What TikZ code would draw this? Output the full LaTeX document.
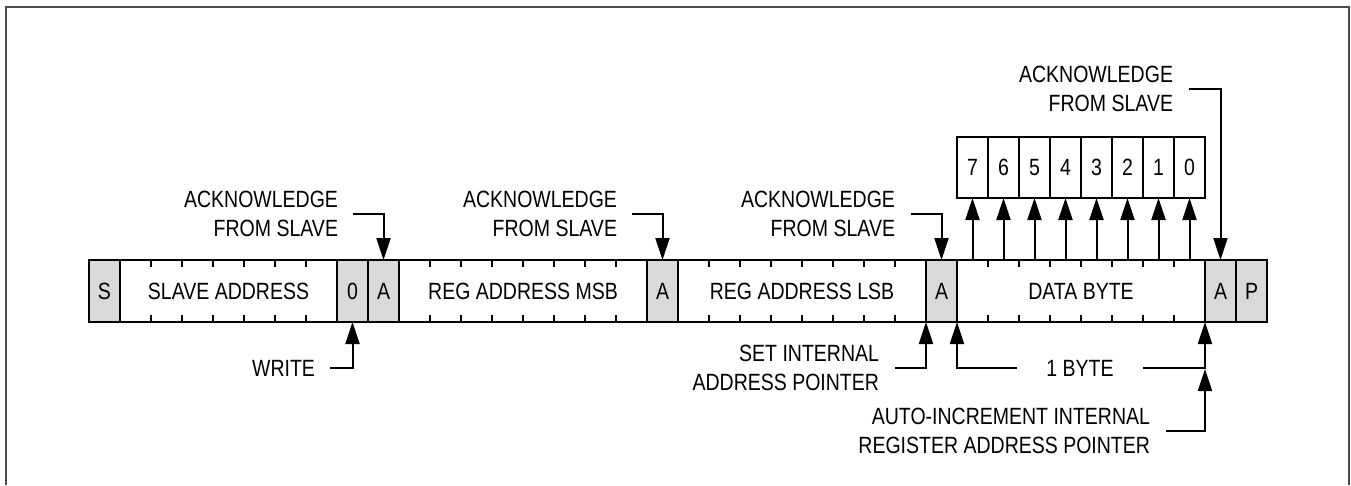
\documentclass[tikz,border=0pt]{standalone}
\usepackage{fontspec}
\setmainfont{Liberation Sans}[FakeStretch=0.83]
\usetikzlibrary{arrows.meta,calc}
\tikzset{
  lbl/.style={font=\fontsize{23.5}{29}\selectfont, inner sep=0pt, outer sep=0pt},
  cell/.style={lbl, draw, line width=2pt, minimum height=62pt, anchor=west},
  gcell/.style={cell, fill=gray!30},
  bitbox/.style={lbl, draw, line width=2pt, minimum width=31pt, minimum height=61pt},
  conn/.style={line width=2pt},
  arr/.style={conn, -{Triangle[length=22pt,width=14pt]}},
  framebox/.style={line width=2pt, draw=black!70},
  tickmark/.style={line width=2pt},
}
\begin{document}
\begin{tikzpicture}[x=1pt,y=-1pt]
\useasboundingbox (0,0) rectangle (1351,485);
\draw[framebox] (6,485) -- (6,7) -- (1349,7) -- (1349,485);

% bar cells
\node[gcell, minimum width=31pt]  (S)    at (89,291)  {S};
\node[cell,  minimum width=217pt] (sa)   at (120,291) {SLAVE ADDRESS};
\node[gcell, minimum width=31pt]  (zero) at (337,291) {0};
\node[gcell, minimum width=31pt]  (A1)   at (368,291) {A};
\node[cell,  minimum width=248pt] (msb)  at (399,291) {REG ADDRESS MSB};
\node[gcell, minimum width=31pt]  (A2)   at (647,291) {A};
\node[cell,  minimum width=248pt] (lsb)  at (678,291) {REG ADDRESS LSB};
\node[gcell, minimum width=31pt]  (A3)   at (926,291) {A};
\node[cell,  minimum width=248pt] (data) at (957,291) {DATA BYTE};
\node[gcell, minimum width=31pt]  (A4)   at (1205,291) {A};
\node[gcell, minimum width=31pt]  (P)    at (1236,291) {P};

% tick marks
\foreach \k in {1,...,6}
  \draw[tickmark] ($(sa.north west)+(31*\k,0)$) -- ++(0,7)
                  ($(sa.south west)+(31*\k,0)$) -- ++(0,-7);
\foreach \c in {msb,lsb,data}
  \foreach \k in {1,...,7}
    \draw[tickmark] ($(\c.north west)+(31*\k,0)$) -- ++(0,7)
                    ($(\c.south west)+(31*\k,0)$) -- ++(0,-7);

% bit boxes
\foreach \i/\n in {0/7,1/6,2/5,3/4,4/3,5/2,6/1,7/0} {
  \node[bitbox] (b\n) at (972.5+31*\i,167.5) {\n};
  \draw[arr] (b\n.south |- data.north) -- (b\n.south);
}

% acknowledge labels
\node[lbl, align=right, anchor=east] (ack1) at (338,214) {ACKNOWLEDGE\\FROM SLAVE};
\draw[arr] ($(ack1.east)+(15,0)$) -| (A1.north);
\node[lbl, align=right, anchor=east] (ack2) at (617,214) {ACKNOWLEDGE\\FROM SLAVE};
\draw[arr] ($(ack2.east)+(15,0)$) -| (A2.north);
\node[lbl, align=right, anchor=east] (ack3) at (895,214) {ACKNOWLEDGE\\FROM SLAVE};
\draw[arr] ($(ack3.east)+(16,0)$) -| (A3.north);
\node[lbl, align=right, anchor=east] (ack4) at (1173,89) {ACKNOWLEDGE\\FROM SLAVE};
\draw[arr] ($(ack4.east)+(16,0)$) -| (A4.north);

% write
\node[lbl, anchor=east] (write) at (315,368) {WRITE};
\draw[arr] ($(write.east)+(15,0)$) -| (zero.south);

% set internal address pointer
\node[lbl, align=right, anchor=east] (set) at (879,368) {SET INTERNAL\\ADDRESS POINTER};
\draw[arr] ($(set.east)+(16,0)$) -| (A3.south west);

% 1 byte
\node[lbl] (byte) at (1080,368) {1 BYTE};
\draw[arr] ($(byte.west)+(-29,0)$) -| (data.south west);
\draw[arr] ($(byte.east)+(29,0)$) -| (data.south east);

% auto-increment
\node[lbl, align=right, anchor=east] (auto) at (1150,431) {AUTO-INCREMENT INTERNAL\\REGISTER ADDRESS POINTER};
\coordinate (join) at (1205,369);
\draw[arr] ($(auto.east)+(16,0)$) -| (join);
\end{tikzpicture}
\end{document}
